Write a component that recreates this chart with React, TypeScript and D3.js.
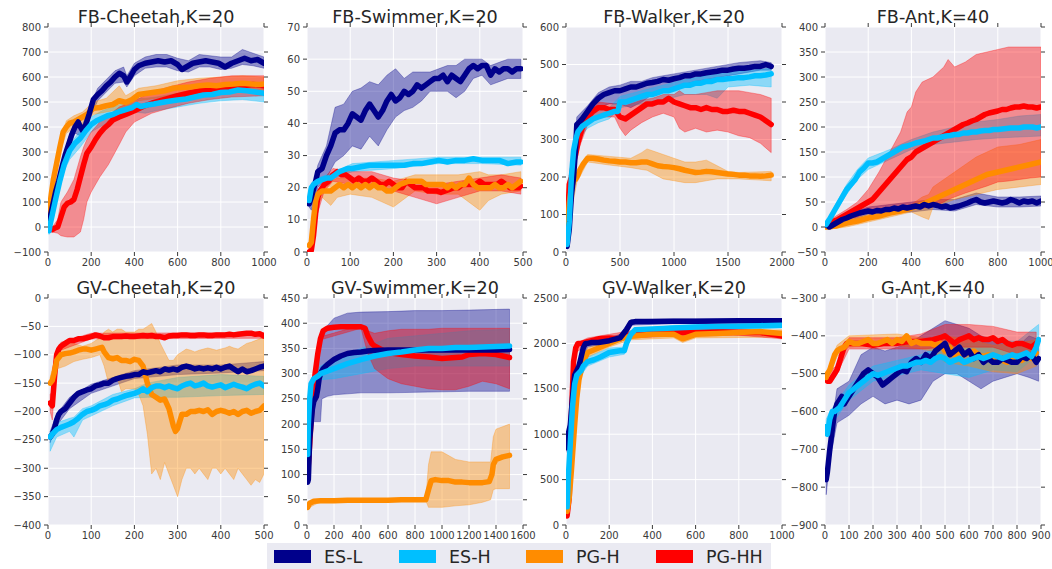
import React from 'react';
import * as d3 from 'd3';

type P2 = [number, number][];
type P3 = [number, number, number][];

const SERIES_KEYS = ['ESL', 'ESH', 'PGH', 'PGHH'];
const SERIES_LABELS = ['ES-L', 'ES-H', 'PG-H', 'PG-HH'];
const SERIES_COLORS = ['#00008B', '#00BFFF', '#FF8C00', '#FF0000'];

// ---------- FB-Cheetah ----------
const cheetahESL: P2 = [[5,20],[10,40],[20,80],[35,140],[50,185],[65,240],[80,290],[95,330],[110,370],[125,400],[140,420],[150,400],[160,385],[175,410],[190,450],[210,510],[230,530],[250,545],[270,565],[290,580],[310,600],[330,615],[350,605],[365,580],[380,600],[400,630],[420,645],[450,655],[480,660],[510,665],[540,660],[570,665],[600,650],[620,630],[640,640],[670,655],[700,660],[730,665],[760,660],[790,655],[820,640],[850,655],[880,665],[910,675],[940,665],[970,670],[1000,655]];
const cheetahESLBand: P3 = [[5,5,40],[35,115,165],[65,215,265],[95,305,355],[125,375,425],[160,360,410],[190,425,475],[230,505,555],[270,540,590],[310,575,625],[350,580,640],[365,560,605],[400,605,655],[450,635,680],[500,640,690],[550,640,690],[600,625,675],[650,620,665],[700,640,690],[750,640,685],[800,630,680],[850,635,680],[900,650,710],[950,645,695],[1000,635,680]];
const cheetahESH: P2 = [[5,-15],[10,10],[20,50],[35,110],[55,185],[75,250],[100,305],[125,335],[150,355],[175,385],[200,410],[225,425],[250,435],[275,445],[300,450],[330,462],[360,470],[390,478],[410,490],[430,482],[460,488],[490,492],[520,497],[560,503],[600,508],[640,512],[680,520],[720,528],[760,530],[800,538],[840,540],[880,548],[920,545],[960,540],[1000,535]];
const cheetahESHBand: P3 = [[5,-30,0],[35,90,135],[75,225,275],[100,270,330],[150,320,385],[200,380,440],[250,405,465],[300,420,480],[350,440,495],[400,460,515],[450,455,515],[500,465,520],[600,480,535],[700,495,555],[800,505,565],[900,510,570],[1000,500,565]];
const cheetahPGH: P2 = [[5,60],[15,130],[25,190],[40,255],[55,320],[70,380],[85,400],[100,415],[120,420],[150,435],[180,450],[210,475],[240,478],[270,485],[300,490],[330,505],[360,498],[390,510],[420,530],[460,535],[500,540],[540,545],[580,555],[620,558],[660,560],[700,565],[740,568],[780,565],[820,570],[860,572],[900,575],[940,572],[980,570],[1000,572]];
const cheetahPGHBand: P3 = [[5,40,80],[25,165,215],[55,295,345],[85,375,425],[120,395,445],[160,410,460],[210,450,500],[270,460,515],[330,470,565],[360,470,525],[420,505,555],[500,515,565],[600,530,585],[700,540,595],[800,545,600],[900,550,605],[1000,550,600]];
const cheetahPGHH: P2 = [[20,-10],[30,-5],[45,0],[60,40],[75,80],[90,95],[105,100],[120,110],[135,150],[150,200],[165,250],[180,295],[200,320],[220,350],[240,375],[260,395],[280,410],[300,428],[330,440],[360,450],[400,465],[440,482],[480,495],[520,505],[560,515],[600,525],[650,535],[700,545],[750,550],[800,555],[850,560],[900,565],[950,570],[1000,565]];
const cheetahPGHHBand: P3 = [[20,-20,0],[45,-25,30],[60,-35,100],[90,-40,140],[120,-40,190],[150,-20,280],[165,30,320],[180,100,350],[200,140,380],[240,200,420],[280,250,445],[330,330,480],[360,380,490],[400,420,505],[480,455,540],[560,475,560],[650,495,580],[750,510,595],[850,520,605],[1000,525,605]];

// ---------- FB-Swimmer ----------
const swimESL: P2 = [[5,15],[10,17],[20,22],[25,25],[35,26],[45,30],[55,33],[65,37],[75,38],[85,38],[95,40],[105,43],[115,42],[125,41],[135,44],[145,46],[155,44],[165,42],[175,44],[185,47],[195,49],[205,47],[215,48],[225,50],[235,49],[245,50],[255,52],[265,51],[275,52],[285,53],[295,54],[305,54],[315,55],[325,53],[335,55],[345,54],[355,53],[365,55],[375,57],[385,58],[395,57],[405,58],[415,58],[425,55],[435,57],[445,56],[455,57],[465,57],[475,56],[485,57],[495,57]];
const swimESLBand: P3 = [[5,14,16],[10,13,18],[25,20,27],[45,23,33],[65,28,45],[85,30,46],[105,33,50],[125,32,51],[145,36,53],[165,33,52],[185,38,55],[205,42,57],[225,44,54],[245,45,56],[265,47,56],[285,50,56],[305,50,57],[325,50,58],[345,48,58],[365,50,60],[385,54,60],[405,55,60],[425,52,58],[445,53,59],[465,54,60],[495,54,60]];
const swimESH: P2 = [[5,16],[10,20],[15,21],[25,22],[35,22.5],[45,23],[55,23],[65,24],[75,25],[85,25.5],[95,26],[105,26],[125,26.5],[145,27],[165,27],[185,27],[205,27],[225,27],[245,27.5],[265,27.5],[285,28],[305,28.5],[325,28],[345,28.5],[365,28.5],[385,29],[405,28.5],[425,28.5],[445,28.5],[465,27.5],[485,28],[495,28]];
const swimESHBand: P3 = [[5,15,17],[25,21,23],[65,23,25],[105,25,27.5],[205,26,28.5],[305,27.5,29.5],[405,27.5,29.5],[495,27,29.5]];
const swimPGH: P2 = [[5,2],[10,3],[15,10],[20,16],[25,18],[35,19],[45,19],[55,19],[65,20],[75,21],[85,20],[95,21],[105,20],[115,21],[125,20],[135,21],[145,20],[155,21],[165,20],[175,20],[185,19],[195,19],[205,20],[215,21],[225,21.5],[235,22],[245,22],[255,22],[265,22],[275,21],[285,21],[295,21],[305,21],[315,21],[325,20],[335,21],[345,20],[355,21],[365,21],[375,23],[385,21],[395,20],[405,20],[415,20],[425,20],[435,21],[445,20],[455,20],[465,21],[475,20],[485,21],[495,22]];
const swimPGHBand: P3 = [[5,1,3],[20,14,18],[35,17,21],[55,14.5,22],[70,17,23],[100,18,23],[150,17,23],[200,14,22],[250,19,24],[300,18,24],[350,18,24],[400,13,25],[420,16,24],[450,18,24],[495,19,25]];
const swimPGHH: P2 = [[5,0],[10,0.5],[15,5],[20,12],[25,17],[30,19],[40,21],[50,22],[60,24],[70,25],[80,24],[90,24],[100,23],[110,22],[120,23],[130,22],[140,22],[150,23],[160,22],[170,21],[180,21],[190,22],[200,21],[210,20],[220,20],[230,22],[240,21],[250,20],[260,20],[270,20],[280,19],[290,19],[300,19],[310,18.5],[320,19],[330,19.5],[340,20],[350,20],[360,21],[370,21],[380,21],[390,21],[400,22],[410,21],[420,21],[430,21],[440,21],[450,22],[460,21],[470,20],[480,20],[490,20],[495,20.5]];
const swimPGHHBand: P3 = [[5,0,1],[20,10,14],[40,19,23],[60,22,26],[100,21,25],[150,21,25],[200,19,23],[250,17,22],[300,15,21],[350,17,22],[400,19,23],[450,19,24],[495,18,23]];

// ---------- FB-Walker ----------
const walkESL: P2 = [[10,15],[30,60],[50,150],[70,200],[90,280],[100,340],[120,345],[150,355],[200,375],[250,395],[300,410],[350,420],[400,425],[450,430],[500,430],[550,435],[600,440],[650,440],[700,445],[750,450],[800,452],[850,455],[900,460],[950,458],[1000,462],[1050,465],[1100,470],[1150,470],[1200,475],[1250,475],[1300,478],[1350,480],[1400,482],[1450,485],[1500,485],[1550,488],[1600,490],[1650,490],[1700,492],[1750,495],[1800,495],[1850,500],[1900,495]];
const walkESLBand: P3 = [[10,10,20],[50,130,170],[100,320,360],[200,355,390],[300,385,425],[400,395,440],[500,395,445],[600,385,455],[700,400,455],[800,420,465],[900,430,470],[1000,440,475],[1200,455,485],[1400,465,495],[1600,475,505],[1800,485,510],[1900,485,505]];
const walkESH: P2 = [[10,20],[30,80],[50,200],[70,270],[90,300],[110,320],[150,335],[200,345],[250,355],[300,360],[350,365],[400,370],[450,375],[480,375],[500,400],[550,400],[600,405],[650,410],[700,415],[750,420],[800,420],[850,425],[900,430],[950,430],[1000,435],[1050,440],[1100,445],[1150,445],[1200,450],[1250,450],[1300,455],[1350,455],[1400,460],[1450,460],[1500,462],[1550,463],[1600,465],[1650,465],[1700,467],[1750,470],[1800,470],[1850,472],[1900,475]];
const walkESHBand: P3 = [[10,10,30],[50,185,215],[100,295,325],[200,330,360],[300,345,375],[400,355,385],[500,385,415],[700,395,430],[900,405,445],[1100,420,460],[1300,420,470],[1400,410,475],[1500,440,480],[1700,445,485],[1900,440,490]];
const walkPGH: P2 = [[10,60],[30,130],[50,170],[70,190],[90,195],[110,205],[130,220],[160,235],[200,250],[250,250],[300,248],[350,245],[400,243],[450,242],[500,240],[550,240],[600,238],[650,238],[700,240],[750,240],[800,235],[850,230],[900,228],[950,227],[1000,225],[1050,222],[1100,218],[1150,215],[1200,212],[1250,213],[1300,215],[1350,214],[1400,212],[1450,210],[1500,208],[1550,207],[1600,205],[1650,205],[1700,203],[1750,203],[1800,202],[1850,203],[1900,205]];
const walkPGHBand: P3 = [[10,50,70],[100,185,210],[200,240,260],[400,232,255],[600,225,250],[700,220,265],[750,218,275],[800,210,270],[900,195,260],[1000,190,250],[1100,185,240],[1200,185,240],[1300,190,245],[1400,195,230],[1500,195,215],[1600,195,212],[1900,190,215]];
const walkPGHH: P2 = [[10,50],[30,180],[50,200],[70,240],[90,260],[110,290],[130,310],[150,330],[170,345],[200,360],[250,375],[300,385],[350,385],[400,380],[450,380],[500,360],[550,355],[600,365],[650,375],[700,385],[750,395],[800,395],[850,400],[900,400],[950,410],[1000,400],[1050,395],[1100,390],[1150,385],[1200,385],[1250,380],[1300,385],[1350,380],[1400,380],[1450,375],[1500,375],[1550,378],[1600,375],[1650,375],[1700,370],[1750,365],[1800,360],[1850,350],[1900,340]];
const walkPGHHBand: P3 = [[10,30,70],[50,180,220],[100,260,300],[200,340,380],[300,360,400],[450,360,395],[500,330,395],[550,310,390],[600,325,395],[700,345,405],[800,360,410],[900,370,420],[1000,360,420],[1050,330,430],[1100,320,420],[1200,330,420],[1300,320,425],[1400,325,430],[1500,320,430],[1600,310,430],[1700,305,425],[1800,290,420],[1900,265,410]];

// ---------- FB-Ant ----------
const antESL: P2 = [[5,5],[20,0],[40,5],[60,10],[80,15],[100,18],[120,22],[140,25],[160,28],[180,30],[200,32],[220,30],[240,33],[260,32],[280,35],[300,35],[320,38],[340,36],[360,40],[380,38],[400,40],[420,42],[440,40],[460,45],[480,42],[500,45],[520,43],[540,40],[560,42],[580,38],[600,40],[620,42],[640,45],[660,48],[680,52],[700,55],[720,50],[740,48],[760,50],[780,52],[800,50],[820,48],[840,50],[860,55],[880,52],[900,48],[920,52],[940,50],[960,52],[980,48],[1000,52]];
const antESLBand: P3 = [[5,0,10],[100,10,25],[200,25,40],[300,28,45],[400,30,50],[500,35,55],[600,32,55],[700,45,68],[800,40,60],[900,40,60],[1000,42,62]];
const antESH: P2 = [[5,5],[20,15],[40,30],[60,45],[80,60],[100,75],[120,85],[140,95],[160,110],[180,118],[200,128],[220,128],[240,130],[260,135],[280,140],[300,145],[320,150],[340,155],[360,160],[380,162],[400,165],[420,168],[440,170],[460,172],[480,175],[500,178],[520,178],[540,180],[560,182],[580,183],[600,185],[620,185],[640,188],[660,188],[680,190],[700,190],[720,192],[740,193],[760,193],[780,195],[800,195],[820,196],[840,197],[860,198],[880,198],[900,198],[920,200],[940,200],[960,200],[980,198],[1000,200]];
const antESHBand: P3 = [[5,0,10],[100,65,85],[150,95,115],[200,115,138],[300,135,155],[400,155,175],[500,165,190],[600,170,200],[700,175,210],[800,178,215],[900,180,222],[1000,182,225]];
const antPGH: P2 = [[5,0],[50,2],[100,8],[150,12],[200,18],[250,22],[300,28],[350,32],[400,38],[450,45],[500,55],[550,65],[600,75],[650,85],[700,95],[750,105],[800,110],[850,115],[900,120],[950,125],[1000,130]];
const antPGHBand: P3 = [[5,-5,5],[100,0,15],[200,10,25],[300,20,35],[400,30,45],[450,20,60],[480,15,65],[500,40,80],[600,55,110],[700,65,140],[800,75,160],[900,80,165],[1000,85,175]];
const antPGHH: P2 = [[5,5],[30,10],[60,15],[80,20],[100,25],[120,30],[140,35],[160,40],[180,45],[200,50],[220,55],[240,65],[260,75],[280,85],[300,95],[320,105],[340,115],[360,125],[380,135],[400,140],[420,150],[440,155],[460,160],[480,165],[500,170],[520,175],[540,180],[560,185],[580,190],[600,195],[620,200],[640,205],[660,208],[680,212],[700,215],[720,220],[740,225],[760,228],[780,230],[800,232],[820,235],[840,235],[860,238],[880,240],[900,240],[920,242],[940,240],[960,240],[980,238],[1000,240]];
const antPGHHBand: P3 = [[5,0,10],[100,15,35],[150,20,50],[200,30,75],[250,30,110],[300,30,150],[350,33,190],[380,35,230],[400,35,240],[420,37,270],[450,38,290],[500,40,300],[550,50,320],[570,55,335],[600,60,320],[650,68,330],[700,75,345],[750,82,350],[800,90,355],[850,92,360],[900,95,360],[950,98,360],[1000,100,360]];

// ---------- GV-Cheetah ----------
const gcESL: P2 = [[5,-245],[10,-240],[15,-230],[20,-215],[25,-205],[30,-200],[40,-195],[50,-185],[60,-175],[70,-168],[80,-165],[90,-162],[100,-160],[110,-155],[120,-153],[130,-150],[140,-150],[150,-145],[160,-142],[170,-140],[180,-138],[190,-137],[200,-135],[210,-135],[220,-130],[230,-132],[240,-130],[250,-128],[260,-130],[270,-125],[280,-127],[290,-125],[300,-127],[310,-122],[320,-120],[330,-122],[340,-125],[350,-123],[360,-125],[370,-123],[380,-125],[390,-122],[400,-125],[410,-122],[420,-120],[430,-125],[440,-130],[450,-125],[460,-130],[470,-128],[480,-125],[490,-122],[500,-120]];
const gcESLBand: P3 = [[5,-255,-235],[20,-225,-205],[50,-195,-175],[100,-168,-152],[200,-142,-128],[300,-135,-118],[400,-132,-118],[500,-128,-112]];
const gcESH: P2 = [[5,-245],[10,-240],[20,-232],[30,-228],[40,-225],[50,-222],[60,-218],[70,-212],[80,-205],[90,-200],[100,-198],[110,-195],[120,-190],[130,-188],[140,-185],[150,-180],[160,-178],[170,-175],[180,-172],[190,-170],[200,-168],[210,-165],[220,-160],[230,-165],[240,-158],[250,-155],[260,-155],[270,-158],[280,-155],[290,-158],[300,-160],[310,-155],[320,-152],[330,-150],[340,-155],[350,-153],[360,-150],[370,-155],[380,-157],[390,-155],[400,-153],[410,-158],[420,-155],[430,-152],[440,-155],[450,-157],[460,-160],[470,-155],[480,-152],[490,-150],[500,-155]];
const gcESHBand: P3 = [[5,-270,-235],[20,-245,-220],[50,-235,-212],[60,-245,-210],[80,-215,-195],[100,-208,-190],[150,-190,-170],[200,-176,-160],[230,-175,-150],[300,-175,-140],[400,-172,-135],[500,-170,-138]];
const gcPGH: P2 = [[5,-150],[10,-145],[15,-130],[20,-110],[30,-100],[40,-98],[50,-97],[60,-95],[70,-92],[80,-90],[90,-90],[100,-92],[110,-90],[120,-88],[125,-87],[130,-95],[140,-105],[150,-107],[160,-105],[170,-110],[180,-110],[190,-112],[200,-108],[210,-110],[220,-120],[230,-150],[240,-170],[250,-175],[260,-180],[270,-178],[280,-195],[290,-225],[295,-235],[300,-230],[310,-205],[320,-205],[330,-200],[340,-200],[350,-198],[360,-200],[370,-197],[380,-205],[390,-200],[400,-198],[410,-200],[420,-203],[430,-200],[440,-205],[450,-200],[460,-198],[470,-203],[480,-200],[490,-198],[500,-190]];
const gcPGHBand: P3 = [[5,-155,-140],[20,-125,-95],[40,-120,-80],[60,-112,-80],[80,-108,-85],[100,-105,-80],[120,-100,-70],[130,-120,-60],[140,-150,-55],[150,-150,-60],[160,-140,-55],[170,-165,-55],[180,-160,-60],[200,-160,-60],[210,-170,-55],[220,-190,-55],[230,-240,-50],[240,-310,-45],[250,-300,-60],[260,-320,-80],[270,-290,-95],[280,-310,-110],[290,-330,-110],[300,-350,-100],[310,-320,-95],[320,-300,-90],[330,-300,-92],[340,-310,-95],[350,-300,-92],[360,-310,-90],[370,-320,-88],[380,-300,-90],[390,-300,-92],[400,-310,-90],[410,-300,-88],[420,-310,-85],[430,-320,-88],[440,-300,-90],[450,-310,-85],[460,-320,-80],[470,-330,-78],[480,-320,-75],[490,-325,-72],[500,-310,-70]];
const gcPGHH: P2 = [[5,-185],[10,-190],[15,-140],[20,-100],[25,-90],[30,-85],[40,-80],[50,-75],[60,-75],[70,-72],[80,-72],[90,-70],[100,-68],[110,-65],[120,-67],[130,-70],[140,-70],[150,-68],[160,-68],[170,-68],[180,-67],[190,-68],[200,-68],[210,-67],[220,-66],[230,-67],[240,-66],[250,-68],[260,-68],[270,-70],[280,-67],[290,-66],[300,-66],[310,-65],[320,-65],[330,-66],[340,-66],[350,-65],[360,-65],[370,-66],[380,-66],[390,-65],[400,-65],[410,-65],[420,-64],[430,-65],[440,-64],[450,-63],[460,-62],[470,-62],[480,-64],[490,-63],[500,-67]];
const gcPGHHBand: P3 = [[5,-200,-170],[10,-215,-165],[15,-160,-120],[20,-110,-90],[30,-92,-78],[100,-72,-62],[500,-71,-61]];

// ---------- GV-Swimmer ----------
const gsESL: P2 = [[5,85],[10,90],[15,130],[20,170],[30,200],[40,230],[50,245],[60,250],[70,255],[80,270],[90,290],[100,300],[120,310],[150,318],[200,328],[250,335],[300,340],[350,342],[400,343],[450,345],[500,346],[600,347],[700,347],[800,347],[900,347],[1000,347],[1100,347],[1200,347],[1300,347],[1400,347],[1500,348]];
const gsESLBand: P3 = [[5,80,100],[30,200,260],[50,205,300],[100,205,370],[110,250,380],[150,255,395],[200,258,410],[300,260,420],[400,262,422],[600,262,423],[800,263,425],[1000,264,425],[1200,265,426],[1500,265,428]];
const gsESH: P2 = [[5,140],[10,200],[20,250],[30,280],[50,290],[80,295],[100,300],[150,305],[200,310],[250,315],[300,320],[400,328],[500,335],[600,340],[700,343],[800,347],[900,350],[1000,350],[1100,352],[1200,352],[1300,353],[1400,354],[1500,355]];
const gsESHBand: P3 = [[5,130,150],[50,280,300],[100,288,315],[200,290,330],[300,295,340],[400,300,350],[500,305,360],[600,310,370],[800,315,375],[1000,315,380],[1200,315,385],[1500,315,388]];
const gsPGH: P2 = [[5,35],[20,43],[50,47],[100,48],[200,48],[300,49],[400,49],[500,49],[600,49],[700,50],[800,50],[880,50],[900,70],[920,88],[950,90],[1000,88],[1050,88],[1100,85],[1150,85],[1200,84],[1250,84],[1300,84],[1350,86],[1370,100],[1380,120],[1400,130],[1450,135],[1500,138]];
const gsPGHBand: P3 = [[5,33,37],[100,46,50],[500,47,51],[880,48,52],[900,35,120],[920,35,145],[1000,35,145],[1100,38,130],[1200,40,125],[1300,45,125],[1360,50,125],[1380,70,175],[1400,72,190],[1500,72,200]];
const gsPGHH: P2 = [[5,100],[20,160],[40,250],[60,300],[80,340],[100,370],[120,385],[150,390],[200,392],[250,393],[300,393],[350,393],[400,393],[430,390],[450,375],[480,360],[500,355],[550,348],[600,342],[700,338],[800,335],[900,333],[1000,330],[1100,332],[1150,333],[1200,338],[1300,340],[1400,338],[1450,335],[1500,332]];
const gsPGHHBand: P3 = [[5,97,103],[100,367,373],[400,390,396],[450,340,385],[500,310,380],[600,290,385],[700,280,388],[800,275,388],[900,270,388],[1000,268,390],[1100,268,390],[1200,275,390],[1300,285,390],[1400,280,390],[1500,270,390]];

// ---------- GV-Walker ----------
const gwESL: P2 = [[5,850],[10,1000],[20,1100],[30,1400],[40,1650],[50,1700],[60,1750],[70,1850],[80,1950],[90,2000],[100,2000],[120,2010],[150,2010],[200,2030],[250,2060],[280,2150],[300,2230],[320,2240],[400,2240],[500,2245],[600,2245],[700,2248],[800,2250],[900,2250],[1000,2250]];
const gwESLBand: P3 = [[5,800,900],[10,900,1100],[30,1300,1500],[50,1650,1760],[100,1960,2040],[200,2000,2060],[250,2030,2100],[300,2200,2260],[500,2220,2270],[1000,2230,2270]];
const gwESH: P2 = [[5,200],[10,500],[20,900],[30,1300],[40,1550],[50,1650],[70,1700],[80,1750],[100,1800],[130,1820],[160,1850],[200,1900],[250,1920],[270,1920],[280,2000],[300,2100],[320,2150],[400,2160],[500,2170],[600,2180],[700,2185],[800,2190],[900,2195],[1000,2200]];
const gwESHBand: P3 = [[5,150,250],[20,850,950],[40,1500,1600],[70,1650,1750],[100,1750,1850],[200,1850,1950],[270,1880,1960],[300,2060,2140],[500,2140,2200],[1000,2170,2220]];
const gwPGH: P2 = [[5,150],[15,300],[25,600],[40,1100],[50,1400],[60,1600],[70,1700],[80,1800],[100,1900],[150,1950],[200,2000],[250,2050],[300,2080],[350,2090],[400,2100],[500,2100],[540,2050],[600,2100],[700,2110],[800,2120],[900,2130],[1000,2110]];
const gwPGHBand: P3 = [[5,120,180],[40,1000,1200],[70,1650,1750],[100,1850,1950],[200,1960,2040],[300,2040,2120],[500,2060,2140],[540,2010,2100],[600,2060,2140],[1000,2070,2150]];
const gwPGHH: P2 = [[5,100],[15,300],[25,1200],[35,1800],[45,1950],[55,2000],[70,2000],[100,2020],[150,2050],[200,2060],[250,2050],[300,2100],[400,2110],[500,2120],[600,2120],[700,2130],[800,2120],[900,2120],[1000,2080]];
const gwPGHHBand: P3 = [[5,80,120],[25,1100,1300],[45,1900,2000],[100,1980,2060],[200,2020,2100],[300,2060,2140],[500,2080,2160],[800,2090,2160],[1000,2050,2120]];

// ---------- G-Ant ----------
const gaESL: P2 = [[5,-780],[10,-760],[20,-700],[30,-650],[40,-600],[50,-580],[60,-570],[70,-560],[80,-580],[90,-570],[100,-560],[120,-540],[140,-520],[160,-500],[180,-490],[200,-500],[220,-510],[240,-530],[260,-520],[280,-510],[300,-500],[320,-490],[340,-495],[360,-470],[380,-460],[400,-470],[420,-450],[440,-460],[460,-440],[480,-430],[500,-420],[520,-450],[540,-440],[560,-430],[580,-450],[600,-440],[620,-460],[640,-450],[660,-470],[680,-460],[700,-470],[720,-470],[740,-460],[760,-465],[780,-470],[800,-470],[820,-455],[840,-460],[860,-450],[880,-470],[890,-460]];
const gaESLBand: P3 = [[5,-820,-750],[20,-730,-670],[50,-630,-540],[100,-610,-520],[150,-580,-450],[200,-560,-430],[250,-580,-440],[300,-570,-430],[350,-580,-420],[400,-570,-400],[450,-520,-380],[500,-500,-360],[550,-500,-370],[600,-520,-380],[650,-540,-400],[700,-520,-410],[750,-510,-420],[800,-500,-430],[850,-510,-400],[890,-520,-410]];
const gaESH: P2 = [[5,-640],[10,-660],[20,-620],[30,-600],[40,-600],[60,-590],[80,-570],[100,-550],[120,-540],[140,-530],[160,-520],[180,-510],[200,-500],[220,-505],[240,-500],[260,-495],[280,-490],[300,-485],[320,-480],[340,-480],[360,-475],[380,-470],[400,-470],[420,-465],[440,-470],[460,-460],[480,-455],[500,-460],[520,-470],[540,-465],[560,-460],[580,-470],[600,-465],[620,-460],[640,-455],[660,-460],[680,-455],[700,-450],[720,-455],[740,-460],[760,-455],[780,-450],[800,-455],[820,-450],[840,-445],[860,-455],[880,-430],[890,-410]];
const gaESHBand: P3 = [[5,-660,-620],[20,-640,-600],[100,-570,-530],[200,-520,-480],[300,-505,-465],[400,-490,-450],[500,-500,-420],[600,-510,-420],[700,-490,-410],[800,-495,-415],[890,-450,-370]];
const gaPGH: P2 = [[5,-510],[10,-500],[20,-490],[30,-470],[40,-450],[50,-440],[60,-435],[80,-430],[100,-415],[120,-420],[140,-420],[160,-415],[180,-410],[200,-420],[220,-420],[240,-415],[260,-410],[280,-420],[300,-410],[320,-415],[340,-400],[360,-420],[380,-415],[400,-420],[420,-420],[440,-420],[460,-425],[480,-420],[500,-440],[520,-430],[540,-450],[560,-440],[580,-450],[600,-445],[620,-440],[640,-450],[660,-455],[680,-450],[700,-460],[720,-460],[740,-465],[760,-470],[780,-455],[800,-460],[820,-465],[840,-455],[860,-460],[880,-445]];
const gaPGHBand: P3 = [[5,-520,-500],[50,-455,-425],[100,-430,-400],[300,-425,-395],[450,-440,-410],[500,-470,-400],[600,-480,-410],[700,-495,-425],[800,-500,-420],[880,-480,-410]];
const gaPGHH: P2 = [[5,-510],[10,-520],[20,-520],[30,-510],[40,-500],[50,-490],[60,-470],[70,-450],[80,-430],[90,-420],[100,-420],[150,-420],[200,-425],[250,-420],[300,-420],[350,-415],[400,-415],[450,-410],[480,-405],[500,-400],[520,-410],[540,-420],[560,-410],[580,-405],[600,-400],[620,-410],[640,-405],[660,-410],[680,-410],[700,-405],[720,-415],[740,-410],[760,-420],[780,-425],[800,-420],[820,-420],[840,-425],[860,-430],[880,-420]];
const gaPGHHBand: P3 = [[5,-525,-495],[50,-500,-480],[100,-435,-405],[300,-435,-405],[400,-435,-395],[500,-430,-370],[600,-430,-370],[700,-430,-375],[800,-450,-390],[880,-450,-390]];

// ---------- panel setup ----------
const TITLES = ['FB-Cheetah,K=20','FB-Swimmer,K=20','FB-Walker,K=20','FB-Ant,K=40','GV-Cheetah,K=20','GV-Swimmer,K=20','GV-Walker,K=20','G-Ant,K=40'];
const X_DOMAINS: [number, number][] = [[0,1000],[0,500],[0,2000],[0,1000],[0,500],[0,1600],[0,1000],[0,900]];
const Y_DOMAINS: [number, number][] = [[-100,800],[0,70],[0,600],[-50,400],[-400,0],[0,450],[0,2500],[-900,-300]];
const X_STEPS = [200,100,500,200,100,200,200,100];
const Y_STEPS = [100,10,100,50,50,50,500,100];

const LINES: P2[][] = [
  [cheetahESL, cheetahESH, cheetahPGH, cheetahPGHH],
  [swimESL, swimESH, swimPGH, swimPGHH],
  [walkESL, walkESH, walkPGH, walkPGHH],
  [antESL, antESH, antPGH, antPGHH],
  [gcESL, gcESH, gcPGH, gcPGHH],
  [gsESL, gsESH, gsPGH, gsPGHH],
  [gwESL, gwESH, gwPGH, gwPGHH],
  [gaESL, gaESH, gaPGH, gaPGHH],
];
const BANDS: P3[][] = [
  [cheetahESLBand, cheetahESHBand, cheetahPGHBand, cheetahPGHHBand],
  [swimESLBand, swimESHBand, swimPGHBand, swimPGHHBand],
  [walkESLBand, walkESHBand, walkPGHBand, walkPGHHBand],
  [antESLBand, antESHBand, antPGHBand, antPGHHBand],
  [gcESLBand, gcESHBand, gcPGHBand, gcPGHHBand],
  [gsESLBand, gsESHBand, gsPGHBand, gsPGHHBand],
  [gwESLBand, gwESHBand, gwPGHBand, gwPGHHBand],
  [gaESLBand, gaESHBand, gaPGHBand, gaPGHHBand],
];

const COL_LEFT = [48, 307, 566, 825];
const PW = 216;
const ROW_TOP = [27, 298];
const ROW_H = [225, 227];
const LINE_ORDER = [3, 2, 0, 1];
const FONT = '"DejaVu Sans", "Liberation Sans", sans-serif';

const fmt = (v: number) => String(v).replace('-', '\u2212');

function Panel({ i }: { i: number }) {
  const col = i % 4, row = Math.floor(i / 4);
  const x0 = COL_LEFT[col], x1 = x0 + PW;
  const y0 = ROW_TOP[row], y1 = y0 + ROW_H[row];
  const xs = d3.scaleLinear().domain(X_DOMAINS[i]).range([x0, x1]);
  const ys = d3.scaleLinear().domain(Y_DOMAINS[i]).range([y1, y0]);
  const xt = d3.range(X_DOMAINS[i][0], X_DOMAINS[i][1] + 1e-9, X_STEPS[i]);
  const yt = d3.range(Y_DOMAINS[i][0], Y_DOMAINS[i][1] + 1e-9, Y_STEPS[i]);
  const line = d3.line<[number, number]>().x(d => xs(d[0])).y(d => ys(d[1]));
  const area = d3.area<[number, number, number]>().x(d => xs(d[0])).y0(d => ys(d[1])).y1(d => ys(d[2]));
  const clip = `clip${i}`;
  const tc = '#3a3a3a';
  return (
    <g>
      <defs>
        <clipPath id={clip}><rect x={x0} y={y0} width={PW} height={y1 - y0} /></clipPath>
      </defs>
      <rect x={x0} y={y0} width={PW} height={y1 - y0} fill="#EAEAF2" />
      {xt.map(v => <line key={'gx' + v} x1={xs(v)} x2={xs(v)} y1={y0} y2={y1} stroke="#fff" strokeWidth={1} />)}
      {yt.map(v => <line key={'gy' + v} x1={x0} x2={x1} y1={ys(v)} y2={ys(v)} stroke="#fff" strokeWidth={1} />)}
      <g clipPath={`url(#${clip})`}>
        {[0, 1, 2, 3].map(s => (
          <path key={'b' + s} d={area(BANDS[i][s]) || ''} fill={SERIES_COLORS[s]} fillOpacity={0.4} stroke={SERIES_COLORS[s]} strokeOpacity={0.4} strokeWidth={0.8} />
        ))}
        {LINE_ORDER.map(s => (
          <path key={'l' + s} d={line(LINES[i][s]) || ''} fill="none" stroke={SERIES_COLORS[s]} strokeWidth={5.5} strokeLinejoin="round" strokeLinecap="round" />
        ))}
      </g>
      {xt.map(v => (
        <g key={'tx' + v}>
          <line x1={xs(v)} x2={xs(v)} y1={y1} y2={y1 + 4} stroke={tc} />
          <line x1={xs(v)} x2={xs(v)} y1={y0 - 4} y2={y0} stroke={tc} />
          <text x={xs(v)} y={y1 + 14} textAnchor="middle" fontSize={10} fill={tc} fontFamily={FONT}>{fmt(v)}</text>
        </g>
      ))}
      {yt.map(v => (
        <g key={'ty' + v}>
          <line x1={x0 - 4} x2={x0} y1={ys(v)} y2={ys(v)} stroke={tc} />
          <line x1={x1} x2={x1 + 4} y1={ys(v)} y2={ys(v)} stroke={tc} />
          <text x={x0 - 7} y={ys(v)} dy="0.35em" textAnchor="end" fontSize={10} fill={tc} fontFamily={FONT}>{fmt(v)}</text>
        </g>
      ))}
      <text x={(x0 + x1) / 2} y={y0 - 4} textAnchor="middle" fontSize={17.6} fill="#262626" fontFamily={FONT}>{TITLES[i]}</text>
    </g>
  );
}

const LEGEND_SWATCH_X = [274, 399, 526, 656];

export default function App() {
  return (
    <svg width={1052} height={569} style={{ position: 'absolute', left: 0, top: 0, background: '#fff' }}>
      {d3.range(8).map(i => <Panel key={i} i={i} />)}
      <rect x={267} y={543} width={504} height={30} fill="#EAEAF2" />
      {SERIES_KEYS.map((k, s) => (
        <g key={k}>
          <rect x={LEGEND_SWATCH_X[s]} y={550} width={37} height={13} fill={SERIES_COLORS[s]} />
          <text x={LEGEND_SWATCH_X[s] + 50} y={563} fontSize={17.5} fill="#262626" fontFamily={FONT}>{SERIES_LABELS[s]}</text>
        </g>
      ))}
    </svg>
  );
}
